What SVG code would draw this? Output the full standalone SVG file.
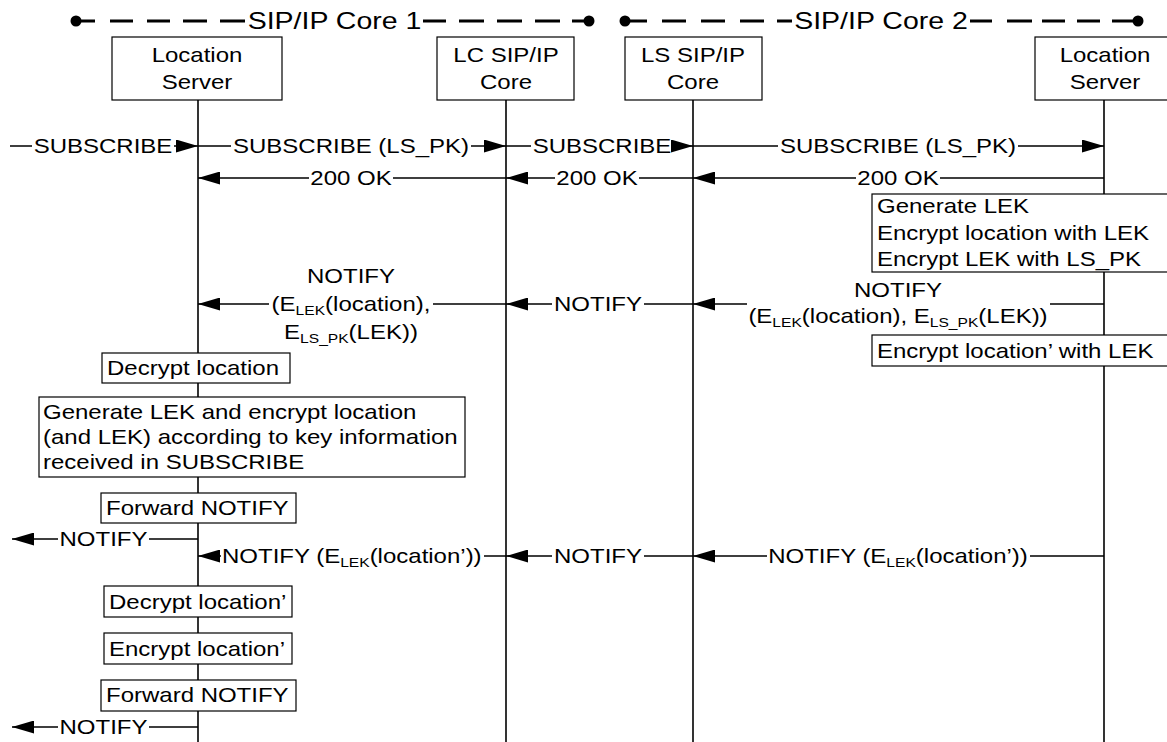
<svg xmlns="http://www.w3.org/2000/svg" width="1167" height="742" viewBox="0 0 1167 742">
<style>
  text { font-family: "Liberation Sans", Arial, sans-serif; font-size: 20px; fill: #000; }
  .hdr { font-size: 23px; }
  .sub { font-size: 13px; }
  .mid { text-anchor: middle; }
  .box { fill: #fff; stroke: #000; stroke-width: 1.2; }
  .life { stroke: #000; stroke-width: 1.6; fill: none; }
  .msg { stroke: #000; stroke-width: 1.6; fill: none; marker-end: url(#ah); }
  .dash { stroke: #000; stroke-width: 2.8; fill: none; }
</style>
<defs>
  <marker id="ah" markerUnits="userSpaceOnUse" markerWidth="22" markerHeight="13" refX="22" refY="6.5" orient="auto">
    <path d="M0,0 L22,6.5 L0,13 z" fill="#000"/>
  </marker>
</defs>
<rect width="1167" height="742" fill="#fff"/>

<g id="core1-header">
  <circle cx="76" cy="21" r="5.5" fill="#000"/>
  <circle cx="589" cy="21" r="5.5" fill="#000"/>
  <path class="dash" d="M76,21 H95 M110,21 H133 M147,21 H170 M183,21 H207 M220,21 H245 M423,21 H446 M459,21 H484 M497,21 H522 M535,21 H560 M572,21 H589"/>
  <text class="hdr mid" transform="translate(334.5 29) scale(1.24 1)">SIP/IP Core 1</text>
</g>
<g id="core2-header">
  <circle cx="625" cy="21" r="5.5" fill="#000"/>
  <circle cx="1138" cy="21" r="5.5" fill="#000"/>
  <path class="dash" d="M625,21 H647 M662,21 H686 M701,21 H725 M740,21 H764 M777,21 H792 M970,21 H992 M1007,21 H1032 M1042,21 H1065 M1077,21 H1100 M1112,21 H1138"/>
  <text class="hdr mid" transform="translate(881 29) scale(1.24 1)">SIP/IP Core 2</text>
</g>

<g id="lifelines">
  <line class="life" x1="198" y1="100" x2="198" y2="742"/>
  <line class="life" x1="506" y1="100" x2="506" y2="742"/>
  <line class="life" x1="693" y1="100" x2="693" y2="742"/>
  <line class="life" x1="1104" y1="100" x2="1104" y2="742"/>
</g>

<g id="ls1">
  <rect class="box" x="112" y="37" width="170" height="63"/>
  <text class="mid" transform="translate(197 62) scale(1.2 1)">Location</text>
  <text class="mid" transform="translate(197 89) scale(1.2 1)">Server</text>
</g>
<g id="lc-core">
  <rect class="box" x="437" y="37" width="137" height="63"/>
  <text class="mid" transform="translate(506 62) scale(1.2 1)">LC SIP/IP</text>
  <text class="mid" transform="translate(506 89) scale(1.2 1)">Core</text>
</g>
<g id="ls-core">
  <rect class="box" x="625" y="37" width="137" height="63"/>
  <text class="mid" transform="translate(693 62) scale(1.2 1)">LS SIP/IP</text>
  <text class="mid" transform="translate(693 89) scale(1.2 1)">Core</text>
</g>
<g id="ls2">
  <rect class="box" x="1035" y="37" width="140" height="63"/>
  <text class="mid" transform="translate(1105 62) scale(1.2 1)">Location</text>
  <text class="mid" transform="translate(1105 89) scale(1.2 1)">Server</text>
</g>

<g id="connectors">
  <path class="msg" d="M10,146 H32 M174,146 H198"/>
  <path class="msg" d="M198,146 H231 M471,146 H506"/>
  <path class="msg" d="M506,146 H531 M673,146 H693"/>
  <path class="msg" d="M693,146 H778 M1018,146 H1104"/>
  <path class="msg" d="M506,178 H393 M309,178 H198"/>
  <path class="msg" d="M693,178 H639 M555,178 H506"/>
  <path class="msg" d="M1104,178 H940 M856,178 H693"/>
  <path class="msg" d="M506,304 H433 M269,304 H198"/>
  <path class="msg" d="M693,304 H644 M552,304 H506"/>
  <path class="msg" d="M1104,304 H1050 M747,304 H693"/>
  <path class="msg" d="M198,539 H149 M58,539 H12"/>
  <path class="msg" d="M506,556 H484 M221,556 H198"/>
  <path class="msg" d="M693,556 H644 M552,556 H506"/>
  <path class="msg" d="M1104,556 H1030 M767,556 H693"/>
  <path class="msg" d="M198,727 H149 M58,727 H12"/>
</g>

<g id="labels">
  <text class="mid" transform="translate(103 153) scale(1.2 1)">SUBSCRIBE</text>
  <text class="mid" transform="translate(351 153) scale(1.2 1)">SUBSCRIBE (LS_PK)</text>
  <text class="mid" transform="translate(602 153) scale(1.2 1)">SUBSCRIBE</text>
  <text class="mid" transform="translate(898 153) scale(1.2 1)">SUBSCRIBE (LS_PK)</text>
  <text class="mid" transform="translate(351 185) scale(1.2 1)">200 OK</text>
  <text class="mid" transform="translate(597 185) scale(1.2 1)">200 OK</text>
  <text class="mid" transform="translate(898 185) scale(1.2 1)">200 OK</text>
  <text class="mid" transform="translate(351 283) scale(1.2 1)">NOTIFY</text>
  <text class="mid" transform="translate(351 311) scale(1.2 1)">(E<tspan class="sub" dy="4">LEK</tspan><tspan dy="-4">(location),</tspan></text>
  <text class="mid" transform="translate(351 339) scale(1.2 1)">E<tspan class="sub" dy="4">LS_PK</tspan><tspan dy="-4">(LEK))</tspan></text>
  <text class="mid" transform="translate(598 311) scale(1.2 1)">NOTIFY</text>
  <text class="mid" transform="translate(898 297) scale(1.2 1)">NOTIFY</text>
  <text class="mid" transform="translate(898 323) scale(1.2 1)">(E<tspan class="sub" dy="4">LEK</tspan><tspan dy="-4">(location), E</tspan><tspan class="sub" dy="4">LS_PK</tspan><tspan dy="-4">(LEK))</tspan></text>
  <text class="mid" transform="translate(103.5 546) scale(1.2 1)">NOTIFY</text>
  <text transform="translate(222 563) scale(1.2 1)">NOTIFY (E<tspan class="sub" dy="4">LEK</tspan><tspan dy="-4">(location’))</tspan></text>
  <text class="mid" transform="translate(598 563) scale(1.2 1)">NOTIFY</text>
  <text class="mid" transform="translate(898 563) scale(1.2 1)">NOTIFY (E<tspan class="sub" dy="4">LEK</tspan><tspan dy="-4">(location’))</tspan></text>
  <text class="mid" transform="translate(103.5 734) scale(1.2 1)">NOTIFY</text>
</g>

<g id="ls2-generate">
  <rect class="box" x="872" y="194" width="310" height="78"/>
  <text transform="translate(877 213) scale(1.2 1)">Generate LEK</text>
  <text transform="translate(877 240) scale(1.2 1)">Encrypt location with LEK</text>
  <text transform="translate(877 266) scale(1.2 1)">Encrypt LEK with LS_PK</text>
</g>
<g id="ls2-encrypt">
  <rect class="box" x="872" y="335" width="310" height="31"/>
  <text transform="translate(877 358) scale(1.2 1)">Encrypt location’ with LEK</text>
</g>
<g id="ls1-decrypt">
  <rect class="box" x="102" y="353" width="188" height="30"/>
  <text transform="translate(107 375) scale(1.2 1)">Decrypt location</text>
</g>
<g id="ls1-generate">
  <rect class="box" x="39" y="397" width="426" height="80"/>
  <text transform="translate(43 419) scale(1.2 1)">Generate LEK and encrypt location</text>
  <text transform="translate(43 444) scale(1.2 1)">(and LEK) according to key information</text>
  <text transform="translate(43 469) scale(1.2 1)">received in SUBSCRIBE</text>
</g>
<g id="ls1-forward1">
  <rect class="box" x="101" y="493" width="195" height="30"/>
  <text transform="translate(106 515) scale(1.2 1)">Forward NOTIFY</text>
</g>
<g id="ls1-decrypt2">
  <rect class="box" x="104" y="586" width="188" height="31"/>
  <text transform="translate(109 609) scale(1.2 1)">Decrypt location’</text>
</g>
<g id="ls1-encrypt2">
  <rect class="box" x="104" y="633" width="188" height="31"/>
  <text transform="translate(109 656) scale(1.2 1)">Encrypt location’</text>
</g>
<g id="ls1-forward2">
  <rect class="box" x="101" y="680" width="195" height="31"/>
  <text transform="translate(106 702) scale(1.2 1)">Forward NOTIFY</text>
</g>
</svg>
